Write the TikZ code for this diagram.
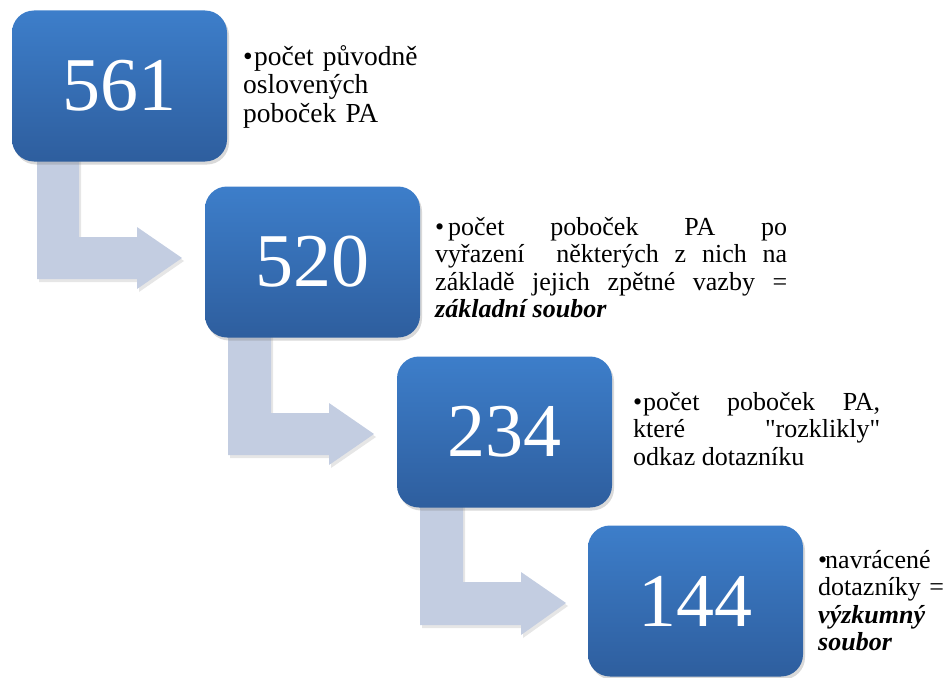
\documentclass[tikz,border=0pt]{standalone}
\usepackage{fontspec}
\setmainfont{Liberation Serif}
\usetikzlibrary{shadows}
\definecolor{boxtop}{RGB}{61,126,202}
\definecolor{boxbot}{RGB}{46,94,158}
\definecolor{arrowfill}{RGB}{195,205,225}
\newcommand{\odrazka}[1]{\hangindent=#1\hangafter=1\noindent\makebox[#1][l]{\textbullet}}
\hyphenpenalty=10000
\exhyphenpenalty=10000
\begin{document}
\begin{tikzpicture}[x=1pt,y=-1pt,
    cislo/.style={rectangle,rounded corners=22pt,minimum width=215pt,minimum height=151pt,
      top color=boxtop,bottom color=boxbot,text=white,inner sep=0pt,
      font=\fontsize{76}{80}\selectfont,
      drop shadow={shadow xshift=2pt,shadow yshift=-3pt,opacity=.3}},
    popis/.style={anchor=base west,inner sep=0pt,align=justify,font=\fontsize{26}{27.5}\selectfont},
    sipka/.style={fill=arrowfill,drop shadow={shadow xshift=2pt,shadow yshift=-3pt,opacity=.2}}]
    \useasboundingbox (0,0) rectangle (952,677);
    % lomene sipky
    \fill[sipka] (37,150) -- (79,150) -- (79,237) -- (137,237) -- (137,227) -- (182,258) -- (137,289) -- (137,279) -- (37,279) -- cycle;
    \fill[sipka] (228,325) -- (271,325) -- (271,413) -- (329,413) -- (329,403) -- (374,434) -- (329,465) -- (329,455) -- (228,455) -- cycle;
    \fill[sipka] (420,495) -- (463,495) -- (463,582) -- (521,582) -- (521,572) -- (566,603) -- (521,635) -- (521,625) -- (420,625) -- cycle;
    % ctverce s cisly
    \node[cislo] (n561) at (119.5,86) {561};
    \node[cislo] (n520) at (312.5,262) {520};
    \node[cislo] (n234) at (504.5,432) {234};
    \node[cislo] (n144) at (695.5,601) {144};
    % popisky
    \node[popis,align=left,text width=185pt,font=\fontsize{27.5}{28.5}\selectfont] (t561) at (243,65)
      {\odrazka{11pt}počet původně\newline oslovených\newline poboček PA};
    \node[popis,text width=352pt] (t520) at (435,235)
      {\odrazka{13pt}počet poboček PA po\linebreak vyřazení\ \ některých z nich na\linebreak základě jejich zpětné vazby =\linebreak \textbf{\textit{základní soubor}}};
    \node[popis,text width=247pt] (t234) at (633,410)
      {\odrazka{10pt}počet poboček PA,\linebreak které \textquotedbl rozklikly\textquotedbl\linebreak odkaz dotazníku};
    \node[popis,align=left,text width=134pt] (t144) at (818,568)
      {\odrazka{7pt}navrácené\newline dotazníky =\newline \textbf{\textit{výzkumný}}\newline \textbf{\textit{soubor}}};
\end{tikzpicture}
\end{document}
